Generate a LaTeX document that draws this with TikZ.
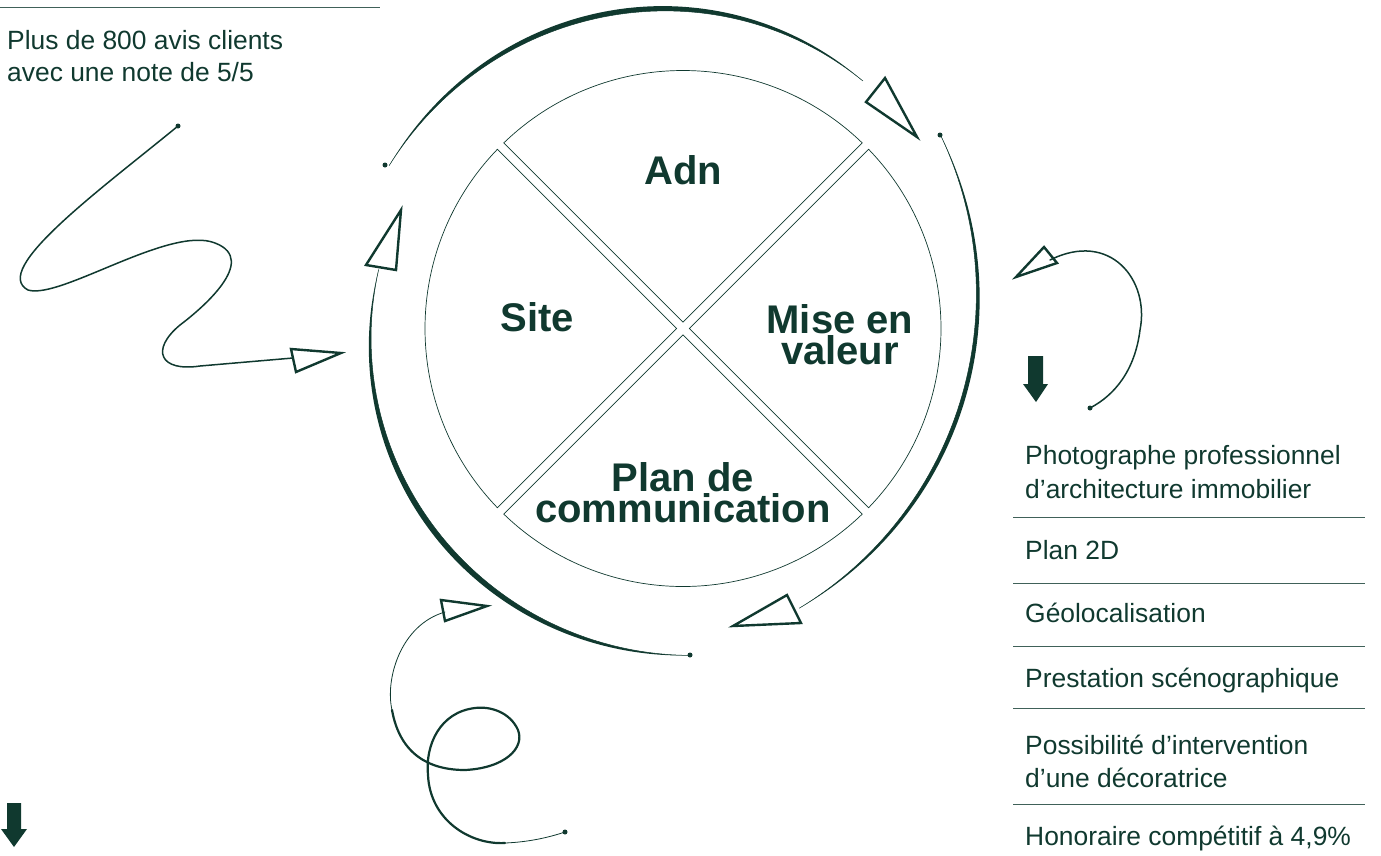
\documentclass[tikz,border=0pt]{standalone}
\usepackage{fontspec}
\setmainfont{Liberation Sans}
\usetikzlibrary{positioning}
\definecolor{ink}{HTML}{10392F}
\tikzset{
  txt/.style={anchor=base west, text=ink, inner sep=0pt, font=\fontsize{26.4}{30}\selectfont},
  lbl/.style={anchor=base, text=ink, inner sep=0pt, font=\bfseries\fontsize{40}{31}\selectfont},
  rule/.style={draw=ink!80, line width=0.8pt},
  sector/.style={draw=ink, line width=0.7pt},
  head/.style={draw=ink, line width=2.4pt, line join=miter},
  stroke/.style={draw=ink, line width=1.5pt, line cap=round},
  thinstroke/.style={draw=ink, line width=0.8pt, line cap=round},
}
% tapered brush arc: start angle, end angle, start radius, end radius, width
\newcommand{\brush}[5]{%
  \fill[ink] plot[smooth, samples=60, domain=#1:#2, variable=\t]
    ({\t}:{#3+(#4-(#3))/(#2-(#1))*(\t-(#1))+#5*sin(180/(#2-(#1))*(\t-(#1)))})
    -- plot[smooth, samples=60, domain=#2:#1, variable=\t]
    ({\t}:{#3+(#4-(#3))/(#2-(#1))*(\t-(#1))}) -- cycle;
  \draw[ink, line width=0.5pt] plot[smooth, samples=60, domain=#1:#2, variable=\t]
    ({\t}:{#3+(#4-(#3))/(#2-(#1))*(\t-(#1))});
}
\begin{document}
\begin{tikzpicture}[x=1pt, y=-1pt]
\useasboundingbox (0,0) rectangle (1381,855);

% the four parts of the wheel
\begin{scope}[shift={(683,328.5)}, yscale=-1]
  \foreach \a in {90,0,-90,180}
    \draw[sector] (\a:6.3) -- (\a-44:258) arc[start angle=\a-44, end angle=\a+44, radius=258] -- cycle;
  % outer ring
  \brush{54}{151}{306}{336}{5}
  \brush{-191}{-88.8}{310}{327}{5.5}
\end{scope}
\begin{scope}[shift={(608,295)}, yscale=-1]
  \brush{-58.6}{25.8}{367}{369}{4}
\end{scope}

\node[lbl] (adn) at (683,184) {Adn};
\node[lbl] (site) at (537,331) {Site};
\node[lbl] (misea) at (840,333) {Mise en};
\node[lbl] (miseb) at (840,364) {valeur};
\node[lbl] (plana) at (683,491) {Plan de};
\node[lbl] (planb) at (683,522) {communication};

% arrow heads
\draw[head] (885,78) -- (866,102) -- (917,137) -- cycle;
\draw[head] (401,210) -- (366,265) -- (396,270) -- cycle;
\draw[head] (291,349) -- (296,372) -- (341,353) -- cycle;
\draw[head] (733,626) -- (787,595) -- (801,623) -- cycle;
\draw[head] (441,600) -- (445,621) -- (487,606) -- cycle;
\draw[head] (1016,277) -- (1044,247) -- (1057,263) -- cycle;

% brush dots
\fill[ink] (385,165) circle (2.5);
\fill[ink] (940,135) circle (2.5);
\fill[ink] (690,655) circle (2.5);
\fill[ink] (178,126) circle (2.5);
\fill[ink] (1090,408) circle (2.5);
\fill[ink] (565,832) circle (2.5);

% loose strokes
\draw[stroke] (178,126) .. controls (100,190) and (-10,270) .. (28,290)
  .. controls (60,300) and (170,225) .. (215,243)
  .. controls (260,260) and (200,310) .. (180,325)
  .. controls (150,350) and (160,372) .. (200,366) -- (293,358);
\draw[stroke] (1050,260) .. controls (1110,230) and (1150,280) .. (1140,330)
  .. controls (1135,370) and (1115,395) .. (1090,408);
\draw[thinstroke] (445,612) .. controls (400,625) and (385,680) .. (392,710);
\draw[stroke, line width=2.2pt] (392,710) .. controls (400,755) and (430,770) .. (465,770)
  .. controls (505,768) and (525,748) .. (518,730)
  .. controls (510,712) and (490,706) .. (475,708)
  .. controls (440,712) and (425,745) .. (428,775)
  .. controls (430,820) and (470,845) .. (505,843);
\draw[thinstroke] (505,843) .. controls (530,842) and (550,837) .. (565,832);

% down arrows
\fill[ink] (1028,356) -- (1043,356) -- (1043,384) -- (1048,384) -- (1036,402) -- (1023,384) -- (1028,384) -- cycle;
\fill[ink] (7,803) -- (21,803) -- (21,829) -- (27,829) -- (14,847) -- (1,829) -- (7,829) -- cycle;

% top left note
\draw[rule] (0,7) -- (380,7);
\node[txt] (avisa) at (7,49) {Plus de 800 avis clients};
\node[txt] (avisb) at (7,81) {avec une note de 5/5};

% right list
\node[txt] (photoa) at (1025,464) {Photographe professionnel};
\node[txt] (photob) at (1025,498) {d’architecture immobilier};
\draw[rule] (1013,517) -- (1365,517);
\node[txt] (plan2d) at (1025,559) {Plan 2D};
\draw[rule] (1013,583) -- (1365,583);
\node[txt] (geo) at (1025,622) {Géolocalisation};
\draw[rule] (1013,646) -- (1365,646);
\node[txt] (sceno) at (1025,687) {Prestation scénographique};
\draw[rule] (1013,708) -- (1365,708);
\node[txt] (decoa) at (1025,754) {Possibilité d’intervention};
\node[txt] (decob) at (1025,787) {d’une décoratrice};
\draw[rule] (1013,804) -- (1365,804);
\node[txt] (hono) at (1025,845) {Honoraire compétitif à 4,9\%};
\end{tikzpicture}
\end{document}
